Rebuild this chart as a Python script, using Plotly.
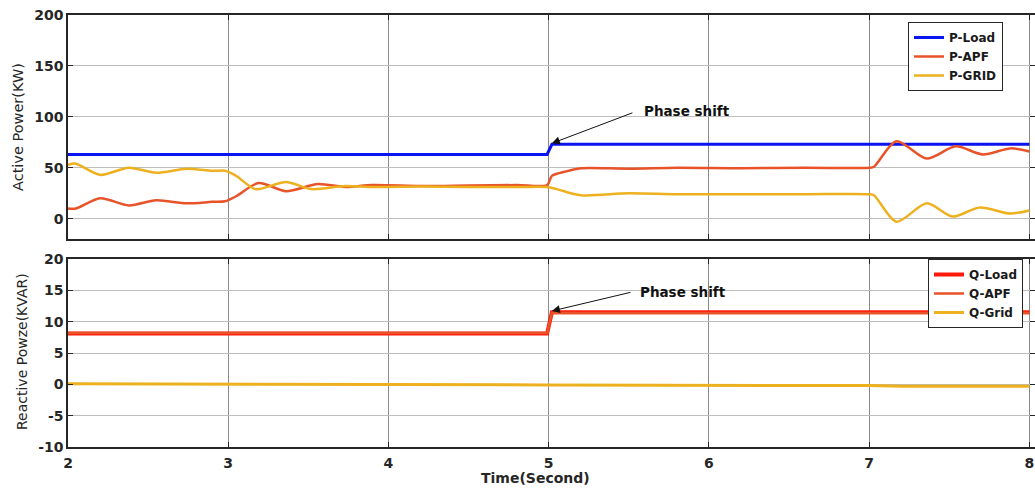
import plotly.graph_objects as go

# ---------------- data ----------------
t_p_load = [2.0, 4.99, 5.02, 8.0]
p_load = [63, 63, 73, 73]

t_p_apf = [2.0, 2.05, 2.2, 2.38, 2.55, 2.74, 2.9, 2.98, 3.05, 3.19, 3.36, 3.56, 3.73, 3.9,
           4.2, 4.5, 4.8, 4.99, 5.02, 5.1, 5.2, 5.5, 5.8, 6.2, 6.6, 7.0, 7.03, 7.17, 7.36,
           7.54, 7.71, 7.88, 8.0]
p_apf = [10, 10, 20, 13, 18, 15, 16.5, 17, 22, 35, 27, 34, 31, 33,
         32, 32.5, 33, 33, 42, 46, 49.5, 49, 50, 49.5, 50, 50, 51, 76, 59,
         71, 63, 69, 66]

t_p_grid = [2.0, 2.05, 2.2, 2.38, 2.55, 2.74, 2.9, 2.98, 3.05, 3.17, 3.36, 3.52, 3.73, 3.9,
            4.2, 4.5, 4.8, 4.99, 5.05, 5.2, 5.5, 5.8, 6.2, 6.6, 7.0, 7.03, 7.17, 7.36,
            7.52, 7.69, 7.88, 8.0]
p_grid = [53, 54, 43, 50, 45, 49, 47, 47, 42, 29, 36, 29, 32, 31,
          31.5, 31, 31, 31, 29, 23, 25, 24, 24, 24, 24, 23, -3, 15,
          2, 11, 5, 8]

t_q_load = [2.0, 4.99, 5.02, 8.0]
q_load = [8.1, 8.1, 11.5, 11.5]
t_q_apf = [2.0, 4.99, 5.02, 8.0]
q_apf = [8.2, 8.2, 11.4, 11.4]
t_q_grid = [2.0, 3.0, 5.0, 7.0, 7.2, 8.0]
q_grid = [0.1, 0.0, -0.1, -0.2, -0.3, -0.3]

p_ticks = [0, 50, 100, 150, 200]
q_ticks = [-10, -5, 0, 5, 10, 15, 20]
x_ticks = [2, 3, 4, 5, 6, 7, 8]

C_BLUE = "#0a14f0"
C_APF = "#e8532a"
C_GRID = "#edb120"
C_RED = "#ff1a0a"

FONT = "DejaVu Sans"


def bold(vals):
    return ["<b>%s</b>" % v for v in vals]


fig = go.Figure()

fig.add_trace(go.Scatter(x=t_p_load, y=p_load, name="P-Load", mode="lines",
                         line=dict(color=C_BLUE, width=3), xaxis="x", yaxis="y", legend="legend"))
fig.add_trace(go.Scatter(x=t_p_apf, y=p_apf, name="P-APF", mode="lines",
                         line=dict(color=C_APF, width=2.5, shape="spline", smoothing=0.8),
                         xaxis="x", yaxis="y", legend="legend"))
fig.add_trace(go.Scatter(x=t_p_grid, y=p_grid, name="P-GRID", mode="lines",
                         line=dict(color=C_GRID, width=2.5, shape="spline", smoothing=0.8),
                         xaxis="x", yaxis="y", legend="legend"))

fig.add_trace(go.Scatter(x=t_q_load, y=q_load, name="Q-Load", mode="lines",
                         line=dict(color=C_RED, width=4), xaxis="x2", yaxis="y2", legend="legend2"))
fig.add_trace(go.Scatter(x=t_q_apf, y=q_apf, name="Q-APF", mode="lines",
                         line=dict(color=C_APF, width=2.5), xaxis="x2", yaxis="y2", legend="legend2"))
fig.add_trace(go.Scatter(x=t_q_grid, y=q_grid, name="Q-Grid", mode="lines",
                         line=dict(color=C_GRID, width=3), xaxis="x2", yaxis="y2", legend="legend2"))

H = 488.0
W = 1035.0 - 68.0
X_RANGE = [2, 8.035]
axis_common = dict(showline=True, linecolor="#262626", linewidth=1.5, mirror="ticks",
                   ticks="inside", ticklen=5, tickcolor="#262626", zeroline=False,
                   automargin=False, ticklabeloverflow="allow",
                   tickfont=dict(family=FONT, size=14, color="#262626"))

fig.update_layout(
    width=1035, height=488,
    margin=dict(l=68, r=0, t=0, b=0, autoexpand=False),
    paper_bgcolor="white", plot_bgcolor="white",
    xaxis=dict(domain=[0, 1], range=X_RANGE, tickvals=x_ticks, showticklabels=False,
               showgrid=True, gridcolor="#8a8a8a", gridwidth=1, anchor="y", **axis_common),
    yaxis=dict(domain=[1 - 239 / H, 1 - 15 / H], range=[-20, 200], tickvals=p_ticks,
               ticktext=bold(p_ticks),
               showgrid=True, gridcolor="#bdbdbd", gridwidth=1, anchor="x", **axis_common),
    xaxis2=dict(domain=[0, 1], range=X_RANGE, tickvals=x_ticks, ticktext=bold(x_ticks),
                showticklabels=True, ticklabelstandoff=2,
                showgrid=True, gridcolor="#8a8a8a", gridwidth=1, anchor="y2", **axis_common),
    yaxis2=dict(domain=[1 - 447 / H, 1 - 259 / H], range=[-10, 20], tickvals=q_ticks,
                ticktext=bold(q_ticks),
                showgrid=True, gridcolor="#bdbdbd", gridwidth=1, anchor="x2", **axis_common),
    legend=dict(x=(908 - 68) / W, y=1 - 22 / H, xanchor="left", yanchor="top",
                bgcolor="white", bordercolor="#262626", borderwidth=1,
                font=dict(family=FONT, size=12, color="#1a1a1a", weight="bold"),
                tracegroupgap=0),
    legend2=dict(x=(928 - 68) / W, y=1 - 259 / H, xanchor="left", yanchor="top",
                 bgcolor="white", bordercolor="#262626", borderwidth=1,
                 font=dict(family=FONT, size=12, color="#1a1a1a", weight="bold"),
                 tracegroupgap=0),
    showlegend=True,
)

# axis titles as annotations
fig.add_annotation(text="Active Power(KW)", xref="paper", yref="paper",
                   x=(18 - 68) / W, y=1 - 127 / H, textangle=-90, showarrow=False,
                   xanchor="center", yanchor="middle",
                   font=dict(family=FONT, size=14.5, color="#262626"))
fig.add_annotation(text="Reactive Powze(KVAR)", xref="paper", yref="paper",
                   x=(22 - 68) / W, y=1 - 352 / H, textangle=-90, showarrow=False,
                   xanchor="center", yanchor="middle",
                   font=dict(family=FONT, size=14, color="#262626"))
fig.add_annotation(text="Time(Second)", xref="paper", yref="paper",
                   x=(535 - 68) / W, y=1 - 478 / H, showarrow=False,
                   xanchor="center", yanchor="middle",
                   font=dict(family=FONT, size=14, color="#262626", weight="bold"))

# phase shift annotations
fig.add_annotation(x=5.02, y=74, xref="x", yref="y", ax=82, ay=-31, axref="pixel", ayref="pixel",
                   text="", showarrow=True, arrowhead=2, arrowsize=1.6, arrowwidth=1,
                   arrowcolor="#111111")
fig.add_annotation(x=5.58, y=106, xref="x", yref="y", text="Phase shift", showarrow=False,
                   xanchor="left", yanchor="middle",
                   font=dict(family=FONT, size=13.5, color="#111111", weight="bold"))
fig.add_annotation(x=5.02, y=11.7, xref="x2", yref="y2", ax=80, ay=-19, axref="pixel", ayref="pixel",
                   text="", showarrow=True, arrowhead=2, arrowsize=1.6, arrowwidth=1,
                   arrowcolor="#111111")
fig.add_annotation(x=5.56, y=14.7, xref="x2", yref="y2", text="Phase shift", showarrow=False,
                   xanchor="left", yanchor="middle",
                   font=dict(family=FONT, size=13.5, color="#111111", weight="bold"))

fig.write_html("out.html")
